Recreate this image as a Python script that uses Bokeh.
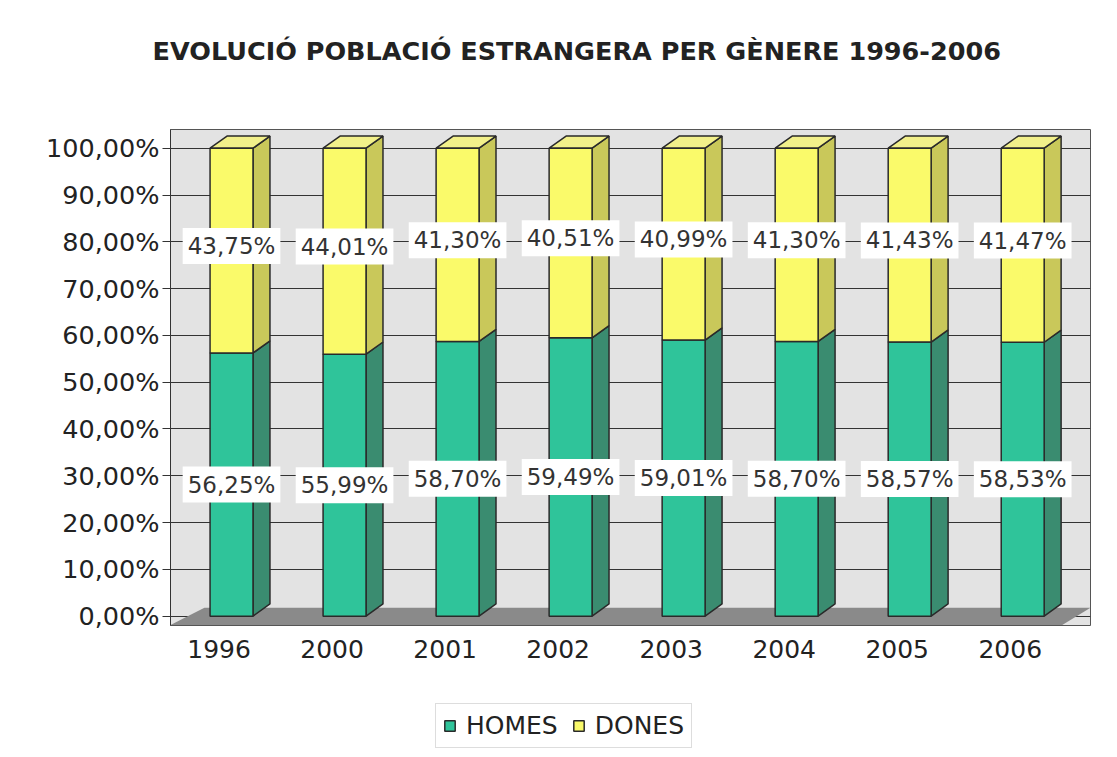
from bokeh.plotting import figure
from bokeh.models import (ColumnDataSource, FixedTicker, LabelSet, Legend, LegendItem)
from bokeh.layouts import column
from bokeh.core.properties import value
from bokeh.embed import file_html
from bokeh.resources import INLINE

title_text = "EVOLUCIÓ POBLACIÓ ESTRANGERA PER GÈNERE 1996-2006"
years = ["1996", "2000", "2001", "2002", "2003", "2004", "2005", "2006"]
homes = [56.25, 55.99, 58.70, 59.49, 59.01, 58.70, 58.57, 58.53]
dones = [43.75, 44.01, 41.30, 40.51, 40.99, 41.30, 41.43, 41.47]
y_ticks = [0, 10, 20, 30, 40, 50, 60, 70, 80, 90, 100]
series = ["HOMES", "DONES"]

def pct(v):
    return f"{v:.2f}".replace(".", ",") + "%"

GREEN = "#2fc49a"
GREEN_SIDE = "#3a8c70"
YELLOW = "#fafa6a"
YELLOW_SIDE = "#c9c85a"
YELLOW_TOP = "#f2f08a"
EDGE = "#2a2a2a"
FONT = "DejaVu Sans"

bw = 0.38      # bar width (style)
dx = 0.15      # 3D depth offsets (style)
dy = 2.6
lab_shift = -0.11   # perspective shift of category labels (style)

W = 1100
FRAME_LEFT = 170

# ---------------- title strip ----------------
pt = figure(width=W, height=100, x_range=(0, 1), y_range=(0, 1),
            x_axis_type=None, y_axis_type=None, output_backend="svg",
            toolbar_location=None, min_border=0, min_border_top=98)
pt.outline_line_color = None
pt.grid.visible = False
pt.title.text = title_text
pt.title.align = "left"
pt.title.offset = 152 - FRAME_LEFT
pt.title.vertical_align = "middle"
pt.title.standoff = 68
pt.title.text_font = FONT
pt.title.text_font_style = "bold"
pt.title.text_font_size = "25.5px"
pt.title.text_color = "#222222"

# ---------------- main chart ----------------
xpos = list(range(len(years)))
tops = [h + d for h, d in zip(homes, dones)]

src = ColumnDataSource(dict(
    x=xpos, homes=homes, dones=dones, tops=tops,
    lab_h=[h / 2 for h in homes],
    lab_d=[h + d / 2 + 1 for h, d in zip(homes, dones)],
    txt_h=[pct(v) for v in homes],
    txt_d=[pct(v) for v in dones],
))

x0, x1 = -0.54, 7.6
p = figure(width=W, height=585, x_range=(x0, x1), y_range=(-2, 104),
           output_backend="svg", toolbar_location=None,
           min_border_left=FRAME_LEFT, min_border_right=10, min_border_top=29,
           min_border_bottom=60)

p.background_fill_color = "#e3e3e3"
p.border_fill_color = "white"
p.outline_line_color = "#555555"

# floor
p.patch([x0, x1 - 0.25, x1, x0 + 0.3], [-1.9, -1.9, 1.8, 1.8],
        fill_color="#8a8a8a", line_color=None)

# side faces and tops, built from the data
side_g_x, side_g_y, side_y_x, side_y_y, top_x, top_y = [], [], [], [], [], []
for x, h, t in zip(xpos, homes, tops):
    r = x + bw / 2
    l = x - bw / 2
    side_g_x.append([r, r + dx, r + dx, r]); side_g_y.append([0, dy, h + dy, h])
    side_y_x.append([r, r + dx, r + dx, r]); side_y_y.append([h, h + dy, t + dy, t])
    top_x.append([l, l + dx, r + dx, r]); top_y.append([t, t + dy, t + dy, t])

p.patches(side_g_x, side_g_y, fill_color=GREEN_SIDE, line_color=EDGE, line_width=1.5)
p.patches(side_y_x, side_y_y, fill_color=YELLOW_SIDE, line_color=EDGE, line_width=1.5)
p.patches(top_x, top_y, fill_color=YELLOW_TOP, line_color=EDGE, line_width=1.5)

p.vbar(x="x", width=bw, bottom=0, top="homes", source=src,
       fill_color=GREEN, line_color=EDGE, line_width=1.5)
p.vbar(x="x", width=bw, bottom="homes", top="tops", source=src,
       fill_color=YELLOW, line_color=EDGE, line_width=1.5)

for ycol, tcol in (("lab_h", "txt_h"), ("lab_d", "txt_d")):
    p.add_layout(LabelSet(x="x", y=ycol, text=tcol, source=src,
                          text_align="center", text_baseline="middle",
                          text_font=value(FONT), text_font_size="23px",
                          text_color="#333333",
                          border_line_color="white", border_line_width=10,
                          border_line_join="miter",
                          background_fill_color="white", background_fill_alpha=1.0))

p.yaxis.ticker = FixedTicker(ticks=y_ticks)
p.yaxis.major_label_overrides = {v: f"{v},00%" for v in y_ticks}
p.yaxis.major_label_text_font = FONT
p.yaxis.major_label_text_font_size = "25.5px"
p.yaxis.major_label_text_color = "#222222"
p.yaxis.major_tick_in = 3
p.yaxis.major_tick_out = 8
p.yaxis.major_tick_line_color = "#333333"
p.yaxis.minor_tick_line_color = None
p.yaxis.axis_line_color = "#333333"
p.yaxis.major_label_standoff = 3

x_ticks = [x + lab_shift for x in xpos]
p.xaxis.ticker = FixedTicker(ticks=x_ticks)
p.xaxis.major_label_overrides = {t: y for t, y in zip(x_ticks, years)}
p.xaxis.major_label_text_font = FONT
p.xaxis.major_label_text_font_size = "25px"
p.xaxis.major_label_text_color = "#222222"
p.xaxis.major_tick_line_color = None
p.xaxis.minor_tick_line_color = None
p.xaxis.axis_line_color = None
p.xaxis.major_label_standoff = 8

p.xgrid.grid_line_color = None
p.ygrid.ticker = FixedTicker(ticks=y_ticks)
p.ygrid.grid_line_color = "#333333"
p.ygrid.grid_line_width = 1.2

# ---------------- legend strip ----------------
pl = figure(width=W, height=64, x_range=(x0, x1), y_range=(0, 1),
            x_axis_type=None, y_axis_type=None, output_backend="svg",
            toolbar_location=None, min_border=0)
pl.outline_line_color = None
pl.grid.visible = False
g1 = pl.vbar(x="x", top="homes", width=bw, source=src, visible=False,
             fill_color=GREEN, line_color=EDGE, line_width=1.5)
g2 = pl.vbar(x="x", top="dones", width=bw, source=src, visible=False,
             fill_color=YELLOW, line_color=EDGE, line_width=1.5)
legend = Legend(items=[LegendItem(label=series[0], renderers=[g1]),
                       LegendItem(label=series[1], renderers=[g2])],
                orientation="horizontal", location=(435 - FRAME_LEFT, 1),
                label_text_font=FONT, label_text_font_size="25px",
                label_text_color="#222222", label_standoff=10,
                glyph_width=13, glyph_height=13, spacing=14,
                inactive_fill_alpha=0.0,
                border_line_color="#bbbbbb", padding=7, margin=0)
pl.add_layout(legend)

layout = column(pt, p, pl, spacing=0)
open("out.html", "w").write(file_html(layout, INLINE))
